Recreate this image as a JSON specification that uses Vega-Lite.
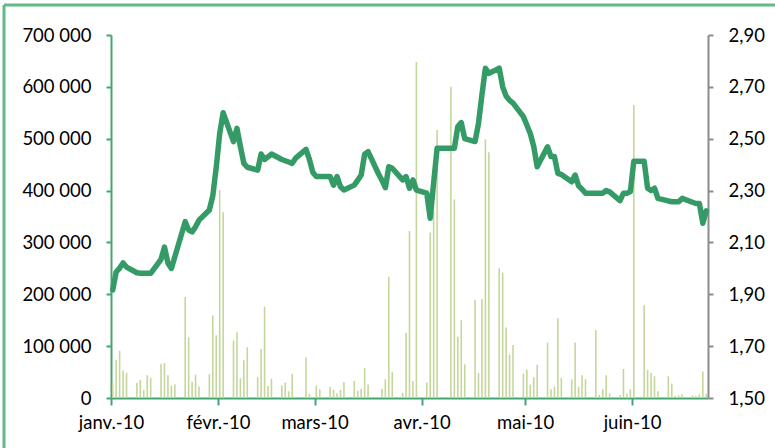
{
  "$schema": "https://vega.github.io/schema/vega-lite/v6.json",
  "width": 771,
  "height": 443,
  "autosize": "none",
  "padding": {"left": 4, "top": 5, "right": 0, "bottom": 0},
  "view": {"stroke": "#63b98a", "strokeWidth": 3, "strokeDash": [771, 1214, 443, 0], "fill": null},
  "config": {
    "axis": {"grid": false, "title": null, "labelFont": "Lato", "labelFontSize": 18.5, "labelColor": "#000000", "labelFontWeight": "normal"}
  },
  "data": {"values": [
    {"d": "2010-01-04T12:00:00", "v": 29000, "p": 1.917},
    {"d": "2010-01-05T12:00:00", "v": 74000, "p": 1.986},
    {"d": "2010-01-06T12:00:00", "v": 91000, "p": 2.001},
    {"d": "2010-01-07T12:00:00", "v": 53000, "p": 2.021},
    {"d": "2010-01-08T12:00:00", "v": 49000, "p": 2.005},
    {"d": "2010-01-11T12:00:00", "v": 29000, "p": 1.983},
    {"d": "2010-01-12T12:00:00", "v": 35000, "p": 1.981},
    {"d": "2010-01-13T12:00:00", "v": 16000, "p": 1.981},
    {"d": "2010-01-14T12:00:00", "v": 44000, "p": 1.981},
    {"d": "2010-01-15T12:00:00", "v": 39000, "p": 1.981},
    {"d": "2010-01-18T12:00:00", "v": 66000, "p": 2.035},
    {"d": "2010-01-19T12:00:00", "v": 67500, "p": 2.082},
    {"d": "2010-01-20T12:00:00", "v": 44000, "p": 2.02},
    {"d": "2010-01-21T12:00:00", "v": 24000, "p": 2.0},
    {"d": "2010-01-22T12:00:00", "v": 26000, "p": 2.045},
    {"d": "2010-01-25T12:00:00", "v": 195000, "p": 2.18},
    {"d": "2010-01-26T12:00:00", "v": 117000, "p": 2.148},
    {"d": "2010-01-27T12:00:00", "v": 31500, "p": 2.141},
    {"d": "2010-01-28T12:00:00", "v": 45000, "p": 2.16},
    {"d": "2010-01-29T12:00:00", "v": 22000, "p": 2.186},
    {"d": "2010-02-01T12:00:00", "v": 46000, "p": 2.225},
    {"d": "2010-02-02T12:00:00", "v": 159000, "p": 2.28},
    {"d": "2010-02-03T12:00:00", "v": 121000, "p": 2.39},
    {"d": "2010-02-04T12:00:00", "v": 401000, "p": 2.52},
    {"d": "2010-02-05T12:00:00", "v": 358000, "p": 2.6},
    {"d": "2010-02-08T12:00:00", "v": 111000, "p": 2.489},
    {"d": "2010-02-09T12:00:00", "v": 127000, "p": 2.54},
    {"d": "2010-02-10T12:00:00", "v": 38000, "p": 2.47},
    {"d": "2010-02-11T12:00:00", "v": 73000, "p": 2.405},
    {"d": "2010-02-12T12:00:00", "v": 98000, "p": 2.39},
    {"d": "2010-02-15T12:00:00", "v": 40000, "p": 2.379},
    {"d": "2010-02-16T12:00:00", "v": 94500, "p": 2.441},
    {"d": "2010-02-17T12:00:00", "v": 176000, "p": 2.42},
    {"d": "2010-02-18T12:00:00", "v": 23000, "p": 2.43},
    {"d": "2010-02-19T12:00:00", "v": 37000, "p": 2.441},
    {"d": "2010-02-22T12:00:00", "v": 24000, "p": 2.42},
    {"d": "2010-02-23T12:00:00", "v": 30000, "p": 2.415},
    {"d": "2010-02-24T12:00:00", "v": 13000, "p": 2.41},
    {"d": "2010-02-25T12:00:00", "v": 47000, "p": 2.405},
    {"d": "2010-02-26T12:00:00", "v": 0, "p": 2.425},
    {"d": "2010-03-01T12:00:00", "v": 78000, "p": 2.459},
    {"d": "2010-03-02T12:00:00", "v": 8000, "p": 2.42},
    {"d": "2010-03-03T12:00:00", "v": 0, "p": 2.37},
    {"d": "2010-03-04T12:00:00", "v": 24000, "p": 2.354},
    {"d": "2010-03-05T12:00:00", "v": 17000, "p": 2.354},
    {"d": "2010-03-08T12:00:00", "v": 21000, "p": 2.354},
    {"d": "2010-03-09T12:00:00", "v": 16000, "p": 2.321},
    {"d": "2010-03-10T12:00:00", "v": 9000, "p": 2.354},
    {"d": "2010-03-11T12:00:00", "v": 16000, "p": 2.315},
    {"d": "2010-03-12T12:00:00", "v": 31000, "p": 2.302},
    {"d": "2010-03-15T12:00:00", "v": 33000, "p": 2.321},
    {"d": "2010-03-16T12:00:00", "v": 14000, "p": 2.34},
    {"d": "2010-03-17T12:00:00", "v": 18000, "p": 2.36},
    {"d": "2010-03-18T12:00:00", "v": 58000, "p": 2.44},
    {"d": "2010-03-19T12:00:00", "v": 26000, "p": 2.45},
    {"d": "2010-03-22T12:00:00", "v": 0, "p": 2.365},
    {"d": "2010-03-23T12:00:00", "v": 18000, "p": 2.34},
    {"d": "2010-03-24T12:00:00", "v": 36000, "p": 2.311},
    {"d": "2010-03-25T12:00:00", "v": 234000, "p": 2.392},
    {"d": "2010-03-26T12:00:00", "v": 50000, "p": 2.386},
    {"d": "2010-03-29T12:00:00", "v": 10000, "p": 2.341},
    {"d": "2010-03-30T12:00:00", "v": 126000, "p": 2.354},
    {"d": "2010-03-31T12:00:00", "v": 322000, "p": 2.309},
    {"d": "2010-04-01T12:00:00", "v": 33000, "p": 2.341},
    {"d": "2010-04-02T12:00:00", "v": 648000, "p": 2.302},
    {"d": "2010-04-05T12:00:00", "v": 30000, "p": 2.29},
    {"d": "2010-04-06T12:00:00", "v": 319000, "p": 2.193},
    {"d": "2010-04-07T12:00:00", "v": 360000, "p": 2.33},
    {"d": "2010-04-08T12:00:00", "v": 517000, "p": 2.463},
    {"d": "2010-04-09T12:00:00", "v": 0, "p": 2.463},
    {"d": "2010-04-12T12:00:00", "v": 600000, "p": 2.463},
    {"d": "2010-04-13T12:00:00", "v": 383000, "p": 2.463},
    {"d": "2010-04-14T12:00:00", "v": 118000, "p": 2.547},
    {"d": "2010-04-15T12:00:00", "v": 150000, "p": 2.562},
    {"d": "2010-04-16T12:00:00", "v": 65000, "p": 2.5},
    {"d": "2010-04-19T12:00:00", "v": 189000, "p": 2.489},
    {"d": "2010-04-20T12:00:00", "v": 48000, "p": 2.56},
    {"d": "2010-04-21T12:00:00", "v": 191000, "p": 2.67},
    {"d": "2010-04-22T12:00:00", "v": 499000, "p": 2.772},
    {"d": "2010-04-23T12:00:00", "v": 474000, "p": 2.752},
    {"d": "2010-04-26T12:00:00", "v": 250000, "p": 2.772},
    {"d": "2010-04-27T12:00:00", "v": 242000, "p": 2.7},
    {"d": "2010-04-28T12:00:00", "v": 136000, "p": 2.665},
    {"d": "2010-04-29T12:00:00", "v": 84000, "p": 2.648},
    {"d": "2010-04-30T12:00:00", "v": 102000, "p": 2.637},
    {"d": "2010-05-03T12:00:00", "v": 47000, "p": 2.585},
    {"d": "2010-05-04T12:00:00", "v": 55000, "p": 2.553},
    {"d": "2010-05-05T12:00:00", "v": 26000, "p": 2.52},
    {"d": "2010-05-06T12:00:00", "v": 40000, "p": 2.47},
    {"d": "2010-05-07T12:00:00", "v": 64000, "p": 2.392},
    {"d": "2010-05-10T12:00:00", "v": 107000, "p": 2.469},
    {"d": "2010-05-11T12:00:00", "v": 17000, "p": 2.431},
    {"d": "2010-05-12T12:00:00", "v": 22000, "p": 2.431},
    {"d": "2010-05-13T12:00:00", "v": 154000, "p": 2.366},
    {"d": "2010-05-14T12:00:00", "v": 39000, "p": 2.362},
    {"d": "2010-05-17T12:00:00", "v": 36000, "p": 2.334},
    {"d": "2010-05-18T12:00:00", "v": 107000, "p": 2.36},
    {"d": "2010-05-19T12:00:00", "v": 22000, "p": 2.318},
    {"d": "2010-05-20T12:00:00", "v": 44000, "p": 2.305},
    {"d": "2010-05-21T12:00:00", "v": 36000, "p": 2.29},
    {"d": "2010-05-24T12:00:00", "v": 131000, "p": 2.29},
    {"d": "2010-05-25T12:00:00", "v": 6000, "p": 2.29},
    {"d": "2010-05-26T12:00:00", "v": 17000, "p": 2.29},
    {"d": "2010-05-27T12:00:00", "v": 44000, "p": 2.3},
    {"d": "2010-05-28T12:00:00", "v": 9000, "p": 2.295},
    {"d": "2010-05-31T12:00:00", "v": 6000, "p": 2.261},
    {"d": "2010-06-01T12:00:00", "v": 56000, "p": 2.29},
    {"d": "2010-06-02T12:00:00", "v": 8000, "p": 2.29},
    {"d": "2010-06-03T12:00:00", "v": 17000, "p": 2.296},
    {"d": "2010-06-04T12:00:00", "v": 565000, "p": 2.413},
    {"d": "2010-06-07T12:00:00", "v": 179000, "p": 2.413},
    {"d": "2010-06-08T12:00:00", "v": 54000, "p": 2.309},
    {"d": "2010-06-09T12:00:00", "v": 48000, "p": 2.3},
    {"d": "2010-06-10T12:00:00", "v": 42000, "p": 2.309},
    {"d": "2010-06-11T12:00:00", "v": 13000, "p": 2.27},
    {"d": "2010-06-14T12:00:00", "v": 42000, "p": 2.26},
    {"d": "2010-06-15T12:00:00", "v": 28000, "p": 2.257},
    {"d": "2010-06-16T12:00:00", "v": 4000, "p": 2.257},
    {"d": "2010-06-17T12:00:00", "v": 5000, "p": 2.257},
    {"d": "2010-06-18T12:00:00", "v": 7000, "p": 2.27},
    {"d": "2010-06-21T12:00:00", "v": 5000, "p": 2.255},
    {"d": "2010-06-22T12:00:00", "v": 4000, "p": 2.25},
    {"d": "2010-06-23T12:00:00", "v": 7000, "p": 2.25},
    {"d": "2010-06-24T12:00:00", "v": 51000, "p": 2.174},
    {"d": "2010-06-25T12:00:00", "v": 8000, "p": 2.222}
  ]},
  "encoding": {
    "x": {
      "field": "d", "type": "temporal",
      "scale": {"domain": [{"year": 2010, "month": 1, "date": 4}, {"year": 2010, "month": 6, "date": 26}], "range": [107, 704], "padding": 0},
      "axis": {
        "orient": "bottom", "offset": -50,
        "values": [{"year": 2010, "month": 1, "date": 4}, {"year": 2010, "month": 2, "date": 4}, {"year": 2010, "month": 3, "date": 4}, {"year": 2010, "month": 4, "date": 4}, {"year": 2010, "month": 5, "date": 4}, {"year": 2010, "month": 6, "date": 4}],
        "labelExpr": "['janv.','févr.','mars','avr.','mai','juin'][month(datum.value)] + '-10'",
        "domainColor": "#45a570", "domainWidth": 2, "tickColor": "#45a570", "tickWidth": 2, "tickSize": 7,
        "labelPadding": 8, "labelFlush": false, "labelOverlap": false
      }
    }
  },
  "layer": [
    {
      "mark": {"type": "bar", "width": 1.6, "color": "#c4d79b"},
      "encoding": {
        "y": {
          "field": "v", "type": "quantitative",
          "scale": {"domain": [0, 700000], "range": [393, 30], "nice": false},
          "axis": {
            "orient": "left", "offset": -107,
            "values": [0, 100000, 200000, 300000, 400000, 500000, 600000, 700000],
            "labelExpr": "replace(format(datum.value, ','), ',', ' ')",
            "domainColor": "#45a570", "domainWidth": 2, "tickColor": "#45a570", "tickWidth": 2, "tickSize": 5,
            "labelPadding": 15
          }
        }
      }
    },
    {
      "mark": {"type": "line", "color": "#359b66", "strokeWidth": 5.5, "strokeJoin": "round", "strokeCap": "round"},
      "encoding": {
        "y": {
          "field": "p", "type": "quantitative",
          "scale": {"domain": [1.5, 2.9], "range": [393, 30], "zero": false, "nice": false},
          "axis": {
            "orient": "right", "offset": -67,
            "values": [1.5, 1.7, 1.9, 2.1, 2.3, 2.5, 2.7, 2.9],
            "labelExpr": "replace(format(datum.value, '.2f'), '.', ',')",
            "domainColor": "#8c8c8c", "domainWidth": 2, "tickColor": "#8c8c8c", "tickWidth": 2, "tickSize": 5,
            "labelPadding": 15
          }
        }
      }
    }
  ],
  "resolve": {"scale": {"y": "independent"}, "axis": {"y": "independent"}}
}
